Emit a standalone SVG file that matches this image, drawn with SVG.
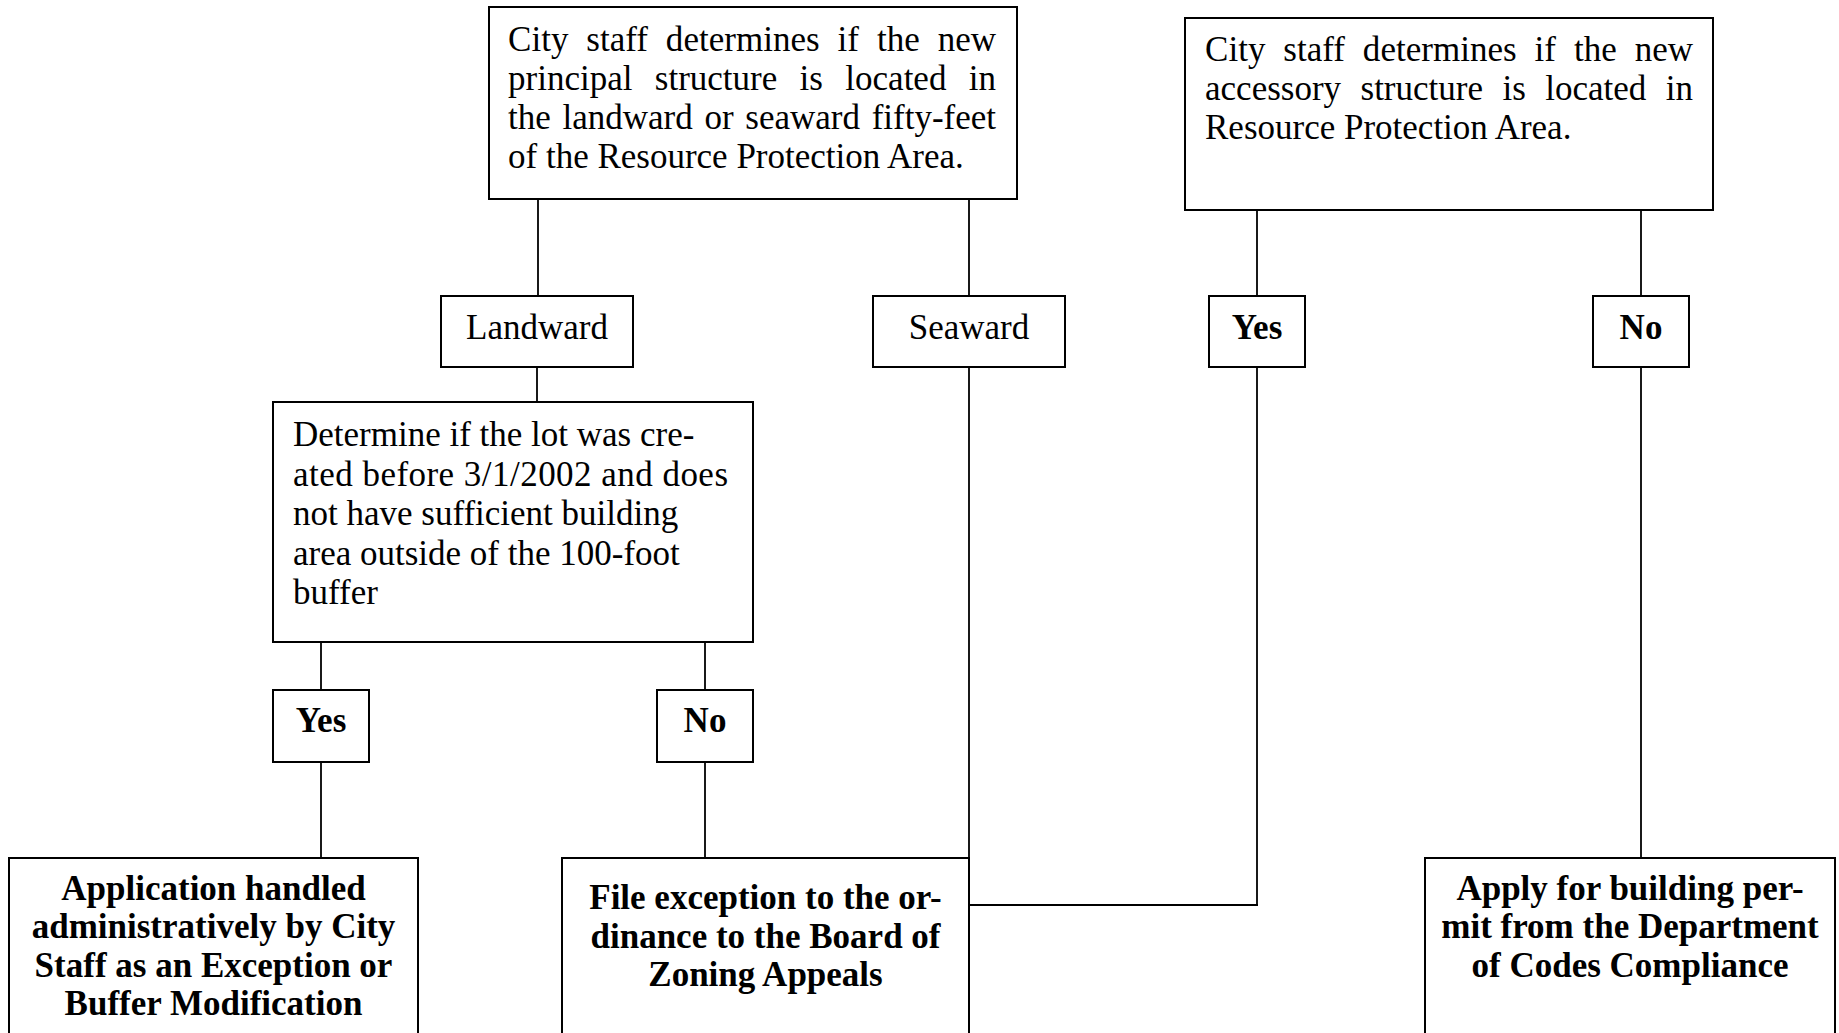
<svg xmlns="http://www.w3.org/2000/svg" width="1839" height="1033" viewBox="0 0 1839 1033">
<style>
.box{fill:#fff;stroke:#000;stroke-width:2}
.t{font-family:"Liberation Serif","Times New Roman",serif;font-size:35px;fill:#000}
.b{font-family:"Liberation Serif","Times New Roman",serif;font-size:35px;font-weight:bold;fill:#000}
.c{text-anchor:middle}
.conn line{stroke:#000;stroke-width:1.8}
</style>
<rect width="1839" height="1033" fill="#fff"/>
<g id="connectors" class="conn">
<line x1="538" y1="199" x2="538" y2="296"/>
<line x1="969" y1="199" x2="969" y2="296"/>
<line x1="537" y1="367" x2="537" y2="402"/>
<line x1="969" y1="367" x2="969" y2="858"/>
<line x1="321" y1="642" x2="321" y2="690"/>
<line x1="321" y1="762" x2="321" y2="858"/>
<line x1="705" y1="642" x2="705" y2="690"/>
<line x1="705" y1="762" x2="705" y2="858"/>
<line x1="1257" y1="210" x2="1257" y2="305"/>
<line x1="1641" y1="210" x2="1641" y2="305"/>
<line x1="1257" y1="367" x2="1257" y2="905"/>
<line x1="969" y1="905" x2="1258" y2="905"/>
<line x1="1641" y1="367" x2="1641" y2="858"/>
</g>
<g id="n-principal">
<rect class="box" x="489" y="7" width="528" height="192"/>
<text class="t" x="508" y="51" word-spacing="9.1" textLength="488" lengthAdjust="spacing">City staff determines if the new</text>
<text class="t" x="508" y="90" word-spacing="13.6" textLength="488" lengthAdjust="spacing">principal structure is located in</text>
<text class="t" x="508" y="129" word-spacing="3" textLength="488" lengthAdjust="spacing">the landward or seaward fifty-feet</text>
<text class="t" x="508" y="168">of the Resource Protection Area.</text>
</g>
<g id="n-accessory">
<rect class="box" x="1185" y="18" width="528" height="192"/>
<text class="t" x="1205" y="61" word-spacing="9.1" textLength="488" lengthAdjust="spacing">City staff determines if the new</text>
<text class="t" x="1205" y="100" word-spacing="10.7" textLength="488" lengthAdjust="spacing">accessory structure is located in</text>
<text class="t" x="1205" y="139">Resource Protection Area.</text>
</g>
<g id="n-landward">
<rect class="box" x="441" y="296" width="192" height="71"/>
<text class="t c" x="537" y="339">Landward</text>
</g>
<g id="n-seaward">
<rect class="box" x="873" y="296" width="192" height="71"/>
<text class="t c" x="969" y="339">Seaward</text>
</g>
<g id="n-yes-acc">
<rect class="box" x="1209" y="296" width="96" height="71"/>
<text class="b c" x="1257" y="339">Yes</text>
</g>
<g id="n-no-acc">
<rect class="box" x="1593" y="296" width="96" height="71"/>
<text class="b c" x="1641" y="339">No</text>
</g>
<g id="n-determine">
<rect class="box" x="273" y="402" width="480" height="240"/>
<text class="t" x="293" y="446">Determine if the lot was cre-</text>
<text class="t" x="293" y="485.5" textLength="435" lengthAdjust="spacing">ated before 3/1/2002 and does</text>
<text class="t" x="293" y="525">not have sufficient building</text>
<text class="t" x="293" y="564.5">area outside of the 100-foot</text>
<text class="t" x="293" y="604">buffer</text>
</g>
<g id="n-yes-lot">
<rect class="box" x="273" y="690" width="96" height="72"/>
<text class="b c" x="321" y="732">Yes</text>
</g>
<g id="n-no-lot">
<rect class="box" x="657" y="690" width="96" height="72"/>
<text class="b c" x="705" y="732">No</text>
</g>
<g id="n-admin">
<rect class="box" x="9" y="858" width="409" height="190"/>
<text class="b c" x="213.5" y="900">Application handled</text>
<text class="b c" x="213.5" y="938">administratively by City</text>
<text class="b c" x="213.5" y="977">Staff as an Exception or</text>
<text class="b c" x="213.5" y="1015">Buffer Modification</text>
</g>
<g id="n-bza">
<rect class="box" x="562" y="858" width="407" height="190"/>
<text class="b c" x="765.5" y="909">File exception to the or-</text>
<text class="b c" x="765.5" y="948">dinance to the Board of</text>
<text class="b c" x="765.5" y="986">Zoning Appeals</text>
</g>
<g id="n-permit">
<rect class="box" x="1425" y="858" width="410" height="190"/>
<text class="b c" x="1630" y="900">Apply for building per-</text>
<text class="b c" x="1630" y="938">mit from the Department</text>
<text class="b c" x="1630" y="977">of Codes Compliance</text>
</g>
</svg>
